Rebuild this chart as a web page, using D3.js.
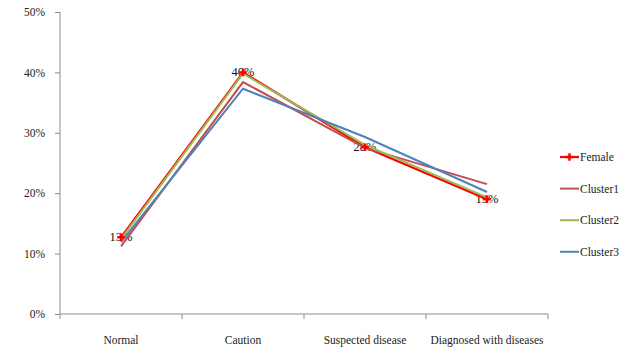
<!DOCTYPE html>
<html>
<head>
<meta charset="utf-8">
<script src="https://cdn.jsdelivr.net/npm/d3@7"></script>
<style>
	body { margin: 0; background: #fff; }
	.axis path, .axis line { stroke: #8c8c8c; }
</style>
</head>
<body>
<svg width="627" height="355"></svg>
<script>
'use strict';

// categories and series, values as fractions
const categories = ["Normal", "Caution", "Suspected disease", "Diagnosed with diseases"];
const female   = [0.127, 0.400, 0.276, 0.190];
const cluster1 = [0.112, 0.384, 0.275, 0.215];
const cluster2 = [0.124, 0.398, 0.280, 0.193];
const cluster3 = [0.119, 0.373, 0.293, 0.202];
const yTicks = [0, 0.1, 0.2, 0.3, 0.4, 0.5];

const series = [
	{name: "Female", values: female, color: "#ff0000", width: 2.2, marker: true},
	{name: "Cluster1", values: cluster1, color: "#c0504d", width: 2},
	{name: "Cluster2", values: cluster2, color: "#9bbb59", width: 2},
	{name: "Cluster3", values: cluster3, color: "#4f81bd", width: 2}
];

const FONT = "'Liberation Serif', 'Times New Roman', serif";
const svg = d3.select("svg");

const x = d3.scaleBand()
	.domain(categories)
	.range([60, 548]);
const y = d3.scaleLinear()
	.domain([0, 0.5])
	.range([314, 12]);

const cx = c => x(c) + x.bandwidth() / 2;

// y axis
const yAxis = svg.append("g")
	.attr("class", "axis")
	.attr("transform", "translate(60,0)")
	.call(d3.axisLeft(y).tickValues(yTicks).tickFormat(d3.format(".0%")).tickSize(5).tickPadding(10));
yAxis.select(".domain").attr("d", "M0,12V314");
yAxis.selectAll("text")
	.attr("font-family", FONT)
	.attr("font-size", 11.5)
	.attr("fill", "#222");

// x axis, ticks on category boundaries
const xAxis = svg.append("g")
	.attr("class", "axis")
	.attr("transform", "translate(0,314)");
xAxis.append("line")
	.attr("x1", 60).attr("x2", 548);
xAxis.selectAll(".tk")
	.data(categories.map(c => x(c)).concat([548]))
	.enter().append("line")
	.attr("x1", d => d).attr("x2", d => d)
	.attr("y1", 0).attr("y2", 5);
xAxis.selectAll("text")
	.data(categories)
	.enter().append("text")
	.attr("x", cx)
	.attr("y", 30)
	.attr("text-anchor", "middle")
	.attr("font-family", FONT)
	.attr("font-size", 11.5)
	.attr("fill", "#222")
	.text(d => d);

const line = d3.line()
	.x((d, i) => cx(categories[i]))
	.y(d => y(d));

// data labels for female
svg.append("g")
	.selectAll("text")
	.data(female)
	.enter().append("text")
	.attr("x", (d, i) => cx(categories[i]))
	.attr("y", d => y(d) + 4)
	.attr("text-anchor", "middle")
	.attr("font-family", FONT)
	.attr("font-size", 12.5)
	.attr("fill", "#111")
	.text(d => d3.format(".0%")(d));

svg.append("g")
	.selectAll("path")
	.data(series)
	.enter().append("path")
	.attr("fill", "none")
	.attr("stroke", d => d.color)
	.attr("stroke-width", d => d.width)
	.attr("d", d => line(d.values));

const cross = d3.symbol().type(d3.symbolCross).size(32);

svg.append("g")
	.selectAll("path")
	.data(female)
	.enter().append("path")
	.attr("transform", (d, i) => `translate(${cx(categories[i])},${y(d)})`)
	.attr("fill", "#ff0000")
	.attr("d", cross);

// legend
const legend = svg.append("g")
	.selectAll("g")
	.data(series)
	.enter().append("g")
	.attr("transform", (d, i) => `translate(560,${157 + i * 31.6})`);
legend.append("line")
	.attr("x1", 0).attr("x2", 19)
	.attr("stroke", d => d.color)
	.attr("stroke-width", d => d.width);
legend.filter(d => d.marker).append("path")
	.attr("transform", "translate(9.5,0)")
	.attr("fill", "#ff0000")
	.attr("d", cross);
legend.append("text")
	.attr("x", 20)
	.attr("y", 4)
	.attr("font-family", FONT)
	.attr("font-size", 11.5)
	.attr("fill", "#222")
	.text(d => d.name);
</script>
</body>
</html>
